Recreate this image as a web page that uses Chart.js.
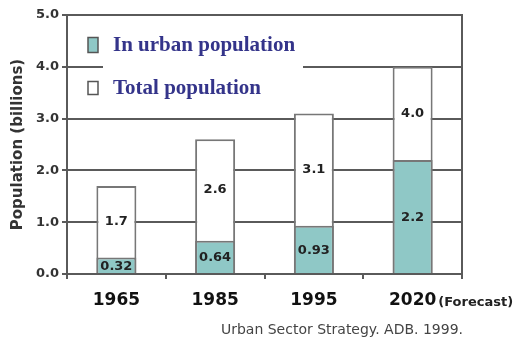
<!DOCTYPE html>
<html>
<head>
<meta charset="utf-8">
<script src="https://cdn.jsdelivr.net/npm/chart.js@4/dist/chart.umd.min.js"></script>
<style>
  html, body { margin: 0; padding: 0; background: #fff; }
  canvas { display: block; }
</style>
</head>
<body>
<canvas id="myChart" width="521" height="338"></canvas>
<script>
const years = ['1965', '1985', '1995', '2020'];
const urbanPop = [0.32, 0.64, 0.93, 2.2];
const totalPop = [1.7, 2.6, 3.1, 4.0];
const seriesNames = ['In urban population', 'Total population'];
const yTicks = [0, 1, 2, 3, 4, 5];
const forecastNote = '(Forecast)';
const sourceNote = 'Urban Sector Strategy. ADB. 1999.';

const teal = '#8fc8c6';
const edge = '#777';
const lineCol = '#5a5a5a';
const legendText = '#34348a';

const ctx = document.getElementById('myChart');

// legend, bar values, right border and the notes under the axis
const extras = {
  id: 'extras',
  beforeDatasetsDraw(chart) {
    const c = chart.ctx;
    // the legend sits on a white patch that hides the 4.0 line
    c.save();
    c.fillStyle = '#fff';
    c.fillRect(103, 58, 200, 18);
    c.restore();
  },
  afterDraw(chart) {
    const c = chart.ctx;
    const a = chart.chartArea;
    const ds = chart.data.datasets;
    c.save();

    c.strokeStyle = lineCol;
    c.lineWidth = 2;
    c.beginPath();
    c.moveTo(a.right, a.top - 1);
    c.lineTo(a.right, a.bottom);
    c.stroke();

    // values in the bars
    const mU = chart.getDatasetMeta(0), mT = chart.getDatasetMeta(1);
    c.font = 'bold 13px "DejaVu Sans"';
    c.fillStyle = '#222';
    c.textAlign = 'center';
    c.textBaseline = 'middle';
    mT.data.forEach((bar, i) => {
      const u = mU.data[i];
      c.fillText(ds[1].data[i].toFixed(1), bar.x, (bar.y + u.y) / 2);
      c.fillText(String(ds[0].data[i]), u.x, (u.y + u.base) / 2 + 1);
    });

    // legend
    const rows = [{ y: 45, fill: ds[0].backgroundColor, h: 15 }, { y: 88, fill: ds[1].backgroundColor, h: 13 }];
    rows.forEach((r, i) => {
      c.fillStyle = r.fill;
      c.fillRect(88, r.y - r.h / 2, 10, r.h);
      c.strokeStyle = '#555';
      c.lineWidth = 1.5;
      c.strokeRect(88, r.y - r.h / 2, 10, r.h);
      c.fillStyle = legendText;
      c.font = 'bold 21px "Liberation Serif"';
      c.textAlign = 'left';
      c.fillText(ds[i].label, 113, r.y + 1);
    });

    // (Forecast) after the last year
    const xs = chart.scales.x;
    const last = years.length - 1;
    c.font = 'bold 17px "DejaVu Sans"';
    const w = c.measureText(years[last]).width;
    c.font = 'bold 13px "DejaVu Sans"';
    c.fillStyle = '#222';
    c.textAlign = 'left';
    c.fillText(forecastNote, xs.getPixelForValue(last) + w / 2 + 2, 303);

    // source
    c.font = '14px "DejaVu Sans"';
    c.fillStyle = '#444';
    c.textAlign = 'right';
    c.fillText(sourceNote, a.right + 1, 330);
    c.restore();
  }
};

new Chart(ctx, {
  type: 'bar',
  data: {
    labels: years,
    datasets: [
      { label: seriesNames[0], data: urbanPop, backgroundColor: teal, borderColor: edge, borderWidth: 2,
        grouped: false, barPercentage: 0.405, categoryPercentage: 1 },
      { label: seriesNames[1], data: totalPop, backgroundColor: '#fff', borderColor: edge, borderWidth: 2,
        grouped: false, barPercentage: 0.405, categoryPercentage: 1 }
    ]
  },
  options: {
    responsive: false,
    animation: false,
    layout: { padding: { top: 15, right: 59, bottom: 0, left: 0 } },
    plugins: { legend: { display: false }, tooltip: { enabled: false } },
    scales: {
      x: {
        grid: { display: true, drawOnChartArea: false, color: lineCol, lineWidth: 2, tickLength: 5, offset: true },
        border: { color: lineCol, width: 2 },
        ticks: { font: { family: 'DejaVu Sans', weight: 'bold', size: 17 }, color: '#111', padding: 11 },
        afterFit: s => { s.height = 64; }
      },
      y: {
        min: 0, max: 5,
        afterBuildTicks: s => { s.ticks = yTicks.map(v => ({ value: v })); },
        ticks: { callback: v => Number(v).toFixed(1), font: { family: 'DejaVu Sans', weight: 'bold', size: 13 }, color: '#333', padding: 3 },
        grid: { color: lineCol, lineWidth: 2, tickLength: 5 },
        border: { color: lineCol, width: 2 },
        title: { display: true, text: 'Population (billions)', font: { family: 'DejaVu Sans', weight: 'bold', size: 15 }, color: '#333', padding: { top: 9, bottom: 0 } },
        afterFit: s => { s.width = 67; }
      }
    }
  },
  plugins: [extras]
});
</script>
</body>
</html>
